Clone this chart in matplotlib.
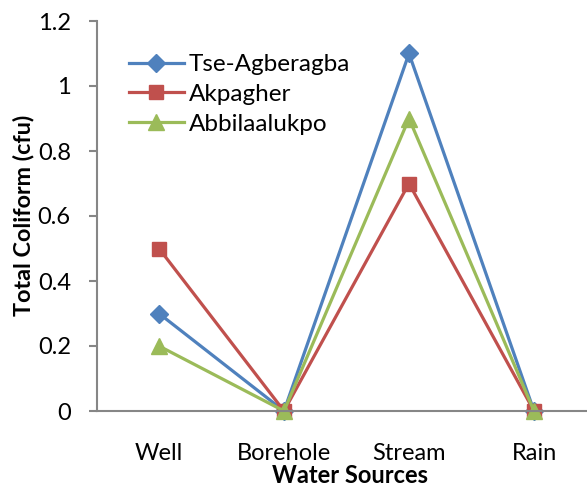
import matplotlib
matplotlib.use("Agg")
import matplotlib.pyplot as plt

# Total coliform counts by water source for three communities
sources = ["Well", "Borehole", "Stream", "Rain"]
tse_agberagba = [0.3, 0.0, 1.1, 0.0]
akpagher = [0.5, 0.0, 0.7, 0.0]
abbilaalukpo = [0.2, 0.0, 0.9, 0.0]
yticks = [0, 0.2, 0.4, 0.6, 0.8, 1, 1.2]
ytick_labels = ["0", "0.2", "0.4", "0.6", "0.8", "1", "1.2"]

plt.rcParams["font.family"] = ["Lato", "DejaVu Sans"]

W, H = 587, 487
fig = plt.figure(figsize=(W / 100, H / 100), dpi=100)
left, right, bottom, top = 96.5, 596.5, 411, 21
ax = fig.add_axes([left / W, 1 - bottom / H, (right - left) / W, (bottom - top) / H])

x = [i + 0.5 for i in range(len(sources))]
series = [
    ("Tse-Agberagba", tse_agberagba, "#4F81BD", "D", 9),
    ("Akpagher", akpagher, "#C0504D", "s", 10),
    ("Abbilaalukpo", abbilaalukpo, "#9BBB59", "^", 11),
]
for name, vals, col, mk, ms in series:
    ax.plot(x, vals, color=col, lw=2.3, marker=mk, markersize=ms,
            markerfacecolor=col, markeredgecolor=col, label=name,
            clip_on=False, solid_joinstyle="round")

ax.set_xlim(0, len(sources))
ax.set_ylim(0, 1.2)
ax.set_yticks(yticks)
ax.set_yticklabels(ytick_labels)
ax.set_xticks(x)
ax.set_xticklabels(sources)

axis_grey = "#868686"
for side in ("top", "right"):
    ax.spines[side].set_visible(False)
for side in ("left", "bottom"):
    ax.spines[side].set_color(axis_grey)
    ax.spines[side].set_linewidth(1.5)
ax.tick_params(axis="y", direction="out", length=5.5, width=1.5, color=axis_grey,
               labelsize=17, pad=13)
ax.tick_params(axis="x", length=0, labelsize=17, pad=23)

fig.text(349.5 / W, 1 - 483 / H, "Water Sources", fontsize=17, fontweight="bold",
         ha="center", va="baseline")
fig.text(24 / W, 1 - 215 / H, "Total Coliform (cfu)", fontsize=16.8, fontweight="bold",
         ha="center", va="center", rotation=90)

leg = ax.legend(loc="upper left", bbox_to_anchor=((129 - left) / 500, (bottom - 54) / 390),
                frameon=False, fontsize=17.5, handlelength=2.25, handletextpad=0.2,
                labelspacing=0.36, borderaxespad=0, borderpad=0)

fig.savefig("out.png", dpi=100)
